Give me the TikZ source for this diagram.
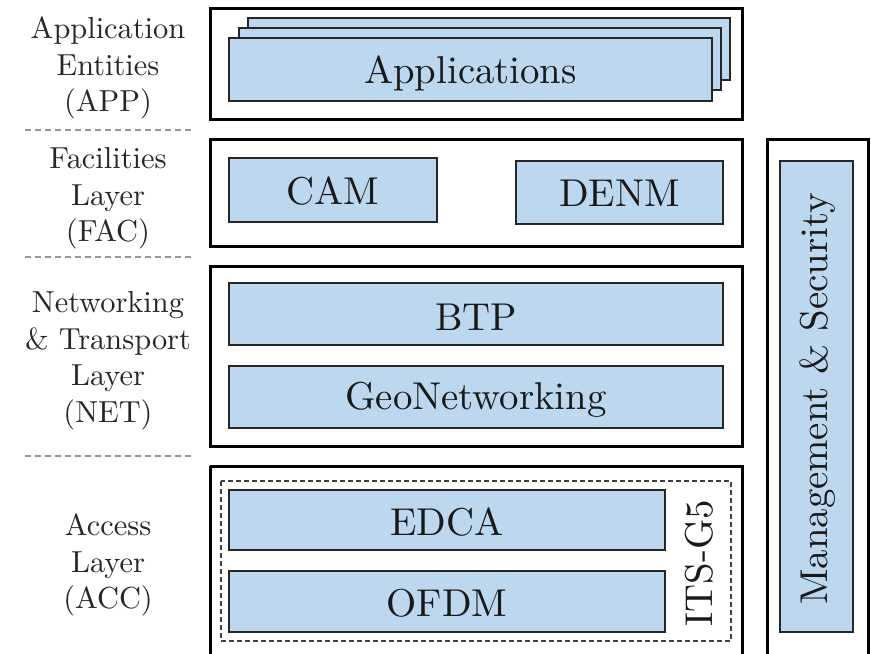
\documentclass[tikz,border=0pt]{standalone}
\usepackage{graphicx}
\definecolor{boxblue}{RGB}{189,215,238}
\definecolor{sepgray}{RGB}{150,150,150}
\newcommand{\bigtxt}[1]{\scalebox{1.94}{#1}}
\newcommand{\lbl}[1]{\scalebox{1.52}{\begin{tabular}{@{}c@{}}#1\end{tabular}}}
\tikzset{
  layer/.style={draw=black, line width=1.5pt},
  block/.style={draw=black!85, line width=0.9pt, fill=boxblue},
  sep/.style={draw=sepgray, line width=1pt, dash pattern=on 3pt off 2pt},
  lbltext/.style={inner sep=0pt, text=black!85},
  blocktext/.style={inner sep=0pt, text=black!90},
}
\begin{document}
\begin{tikzpicture}[x=0.5pt, y=-0.5pt]
\useasboundingbox (0,0) rectangle (871,653);

% left column: layer names
\node[lbltext] (lapp) at (108,68)  {\lbl{Application\\Entities\\(APP)}};
\node[lbltext] (lfac) at (108,198) {\lbl{Facilities\\Layer\\(FAC)}};
\node[lbltext] (lnet) at (108,360) {\lbl{Networking\\\& Transport\\Layer\\(NET)}};
\node[lbltext] (lacc) at (108,565) {\lbl{Access\\Layer\\(ACC)}};

\draw[sep] (25,130) -- (193,130);
\draw[sep] (25,257) -- (193,257);
\draw[sep] (25,456) -- (193,456);

% application entities
\draw[layer] (210,8) rectangle (742,119);
\draw[block] (248,18) rectangle (730,80);
\draw[block] (239,28) rectangle (721,90);
\draw[block] (229,38) rectangle (712,101);
\node[blocktext] (apps) at (470.5,73) {\bigtxt{Applications}};

% facilities layer
\draw[layer] (210,139) rectangle (742,246);
\draw[block] (229,158) rectangle (437,222);
\node[blocktext] (cam) at (333,191) {\bigtxt{CAM}};
\draw[block] (516,161) rectangle (723,224);
\node[blocktext] (denm) at (619.5,193.5) {\bigtxt{DENM}};

% networking & transport layer
\draw[layer] (210,266) rectangle (742,446);
\draw[block] (229,283) rectangle (723,345);
\node[blocktext] (btp) at (476,317) {\bigtxt{BTP}};
\draw[block] (229,366) rectangle (723,428);
\node[blocktext] (geo) at (476,400) {\bigtxt{GeoNetworking}};

% access layer
\draw[layer] (210,466) -- (742,466) -- (742,660) (210,660) -- (210,466);
\draw[draw=black!75, line width=0.7pt, dash pattern=on 2.5pt off 1.5pt] (221,481) rectangle (731,641);
\draw[block] (229,490) rectangle (665,550);
\node[blocktext] (edca) at (447,522) {\bigtxt{EDCA}};
\draw[block] (229,571) rectangle (665,632);
\node[blocktext] (ofdm) at (447,603.5) {\bigtxt{OFDM}};
\node[blocktext, rotate=90] (its) at (699,563) {\bigtxt{ITS-G5}};

% management & security
\draw[layer] (767,660) -- (767,139) -- (868,139) -- (868,660);
\draw[block] (780,161) rectangle (853,632);
\node[blocktext, rotate=90] (mgmt) at (818,399) {\bigtxt{Management \& Security}};
\end{tikzpicture}
\end{document}
